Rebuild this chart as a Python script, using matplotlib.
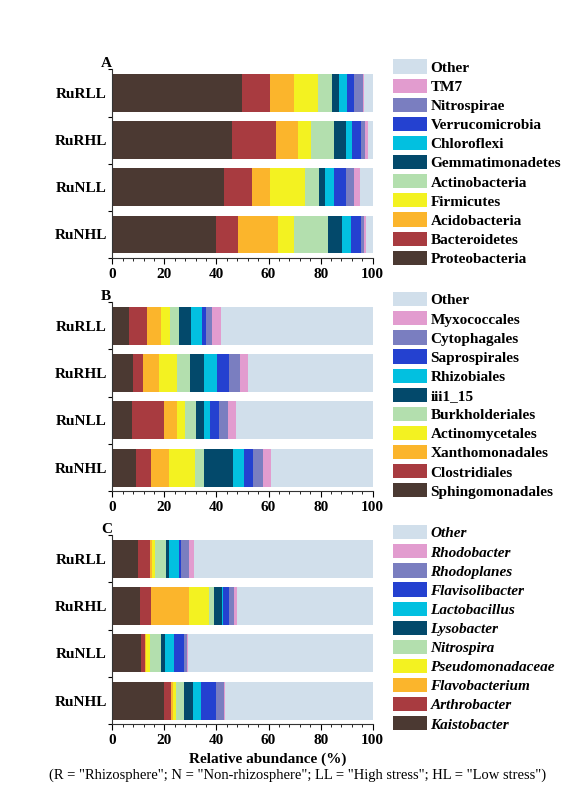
import matplotlib
matplotlib.use("Agg")
import matplotlib.pyplot as plt
from matplotlib.ticker import MultipleLocator, FixedLocator
from matplotlib.patches import Patch
import numpy as np

plt.rcParams["font.family"] = ["Liberation Serif", "DejaVu Serif"]

samples = ["RuRLL", "RuRHL", "RuNLL", "RuNHL"]

# Panel A: phyla
phyla = ["Proteobacteria", "Bacteroidetes", "Acidobacteria", "Firmicutes",
         "Actinobacteria", "Gemmatimonadetes", "Chloroflexi", "Verrucomicrobia",
         "Nitrospirae", "TM7", "Other"]
phyla_vals = {
    "RuRLL": [49.7, 11.0, 9.0, 9.3, 5.5, 2.4, 3.2, 2.7, 3.4, 0.3, 3.5],
    "RuRHL": [46.1, 16.8, 8.4, 5.0, 9.0, 4.3, 2.3, 3.6, 1.6, 1.0, 1.9],
    "RuNLL": [42.8, 10.8, 7.1, 13.3, 5.3, 2.5, 3.2, 4.8, 3.2, 2.3, 4.7],
    "RuNHL": [39.7, 8.7, 15.1, 6.2, 13.0, 5.4, 3.4, 3.9, 1.3, 0.6, 2.7],
}

# Panel B: orders
orders = ["Sphingomonadales", "Clostridiales", "Xanthomonadales", "Actinomycetales",
          "Burkholderiales", "iii1_15", "Rhizobiales", "Saprospirales",
          "Cytophagales", "Myxococcales", "Other"]
order_vals = {
    "RuRLL": [6.3, 6.9, 5.4, 3.4, 3.7, 4.4, 4.2, 1.7, 2.4, 3.5, 58.1],
    "RuRHL": [8.1, 3.8, 6.0, 6.8, 5.3, 5.2, 4.9, 4.8, 4.1, 3.0, 48.0],
    "RuNLL": [7.6, 12.1, 5.1, 3.2, 4.3, 2.9, 2.2, 3.6, 3.4, 3.1, 52.5],
    "RuNHL": [9.2, 5.5, 7.2, 10.0, 3.2, 11.4, 4.1, 3.4, 3.9, 3.0, 39.1],
}

# Panel C: genera
genera = ["Kaistobacter", "Arthrobacter", "Flavobacterium", "Pseudomonadaceae",
          "Nitrospira", "Lysobacter", "Lactobacillus", "Flavisolibacter",
          "Rhodoplanes", "Rhodobacter", "Other"]
genus_vals = {
    "RuRLL": [9.7, 4.8, 0.9, 0.9, 4.3, 1.3, 3.8, 0.8, 3.1, 1.9, 68.5],
    "RuRHL": [10.6, 4.3, 14.4, 7.8, 2.0, 2.9, 0.4, 2.3, 1.9, 1.2, 52.2],
    "RuNLL": [11.0, 1.5, 0.6, 1.5, 4.0, 1.6, 3.6, 3.7, 1.1, 0.5, 70.9],
    "RuNHL": [19.7, 2.8, 0.9, 1.2, 3.1, 3.2, 3.0, 5.9, 3.0, 0.4, 56.8],
}

colors = ["#4b3932", "#a83b40", "#fbb52c", "#f3f221", "#b3dfae", "#03496b",
          "#02c0e0", "#2441d0", "#7a7ec0", "#e29ccf", "#d1dfeb"]

panels = [
    ("A", phyla, phyla_vals, "normal", [0.1995, 0.6763, 0.4625, 0.2365]),
    ("B", orders, order_vals, "normal", [0.1995, 0.3836, 0.4625, 0.2373]),
    ("C", genera, genus_vals, "italic", [0.1995, 0.0911, 0.4625, 0.2375]),
]

W, H = 563, 797
fig = plt.figure(figsize=(W / 100, H / 100), dpi=100)

for letter, taxa, vals, style, rect in panels:
    ax = fig.add_axes(rect)
    ypos = np.arange(len(samples))
    data = np.array([vals[s] for s in samples])
    left = np.zeros(len(samples))
    handles = []
    for j, taxon in enumerate(taxa):
        ax.barh(ypos, data[:, j], left=left, height=0.80, color=colors[j],
                edgecolor="none", linewidth=0)
        left += data[:, j]
        handles.append(Patch(facecolor=colors[j], edgecolor="none", label=taxon))

    ax.set_xlim(0, 100)
    ax.set_ylim(len(samples) - 0.5, -0.5)
    ax.set_yticks(ypos)
    ax.set_yticklabels(samples, fontsize=11, fontweight="bold")
    ax.yaxis.set_minor_locator(FixedLocator(np.arange(-0.5, len(samples), 1.0)))
    ax.tick_params(axis="y", which="major", length=0, pad=4)
    ax.tick_params(axis="y", which="minor", length=3, width=0.8, direction="out")
    ax.xaxis.set_major_locator(MultipleLocator(20))
    ax.xaxis.set_minor_locator(MultipleLocator(4))
    ax.tick_params(axis="x", which="major", length=4, width=0.8, direction="out",
                   labelsize=11, pad=3)
    ax.tick_params(axis="x", which="minor", length=2, width=0.6, direction="out")
    for lab in ax.get_xticklabels():
        lab.set_fontweight("bold")
    for side in ("top", "right"):
        ax.spines[side].set_visible(False)
    for side in ("left", "bottom"):
        ax.spines[side].set_linewidth(0.8)
        ax.spines[side].set_color("#333333")

    # panel letter
    x0, y0, w, h = rect
    fig.text(x0 - 6 / W, y0 + h + 6 / H, letter, fontsize=11, fontweight="bold",
             ha="center", va="center")

    # legend, "Other" on top
    fig.legend(handles=handles[::-1], loc="upper left",
               bbox_to_anchor=(393 / W, y0 + h + 10 / H),
               frameon=False, borderpad=0, borderaxespad=0,
               handlelength=2.2, handleheight=1.05, handletextpad=0.25,
               labelspacing=0.25,
               prop={"size": 11, "weight": "bold", "style": style,
                     "family": ["Liberation Serif", "DejaVu Serif"]})

fig.text(267.5 / W, 1 - 759 / H, "Relative abundance (%)", fontsize=11,
         fontweight="bold", ha="center", va="center")
fig.text(297.5 / W, 1 - 775 / H,
         '(R = "Rhizosphere"; N = "Non-rhizosphere"; LL = "High stress"; HL = "Low stress")',
         fontsize=10.5, ha="center", va="center")

fig.savefig("out.png", dpi=100, facecolor="white")
